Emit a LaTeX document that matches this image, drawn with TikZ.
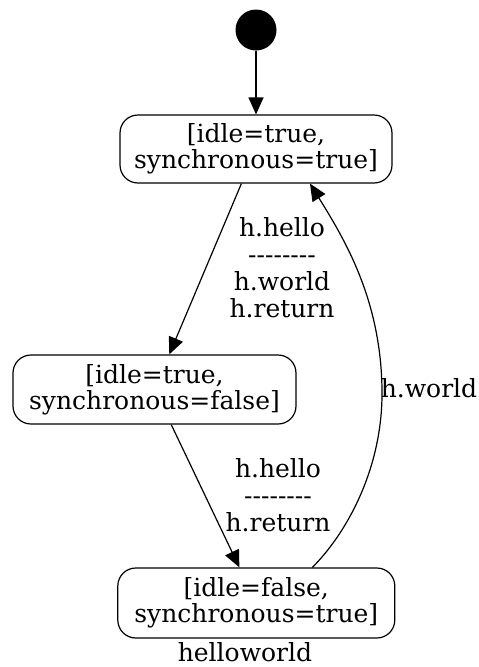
\documentclass[tikz,border=0pt]{standalone}
\usepackage{fontspec}
\setmainfont{DejaVu Serif}
\usetikzlibrary{arrows.meta,calc}
\newcommand{\dashline}{-\kern0pt-\kern0pt-\kern0pt-\kern0pt-\kern0pt-\kern0pt-\kern0pt-}
\begin{document}
\begin{tikzpicture}[x=1pt,y=-1pt,
  state/.style={draw, rounded corners=18pt, line width=1.2pt, minimum height=68pt, inner sep=0pt, align=center, font=\fontsize{25}{26}\selectfont},
  lbl/.style={align=center, inner sep=0pt, font=\fontsize{25}{27}\selectfont},
  edge/.style={line width=1.2pt, -{Triangle[length=17pt,width=15pt]}}]
\useasboundingbox (0,0) rectangle (479,667);
\node[circle, fill=black, minimum size=41pt, inner sep=0pt] (init) at (256,30) {};
\node[state, minimum width=272pt] (s1) at (256,149) {[idle=true,\\synchronous=true]};
\node[state, minimum width=283pt, minimum height=69pt] (s2) at (154.5,389.5) {[idle=true,\\synchronous=false]};
\node[state, minimum width=277pt, minimum height=70pt] (s3) at (256.3,603) {[idle=false,\\synchronous=true]};
\node[lbl] (name) at (245,652) {helloworld};
\draw[edge] (init) -- (s1);
\draw[edge] (s1) -- (s2);
\draw[edge] (s2) -- (s3);
\draw[edge] ([xshift=56pt]s3.north) .. controls (345,535) and (383,470) .. (382,390) .. controls (381,300) and (345,240) .. ([xshift=54pt]s1.south);
\node[lbl] (l1) at (282,268) {h.hello\\\dashline\\h.world\\h.return};
\node[lbl] (l2) at (278,495) {h.hello\\\dashline\\h.return};
\node[lbl] (l3) at (429,388) {h.world};
\end{tikzpicture}
\end{document}
